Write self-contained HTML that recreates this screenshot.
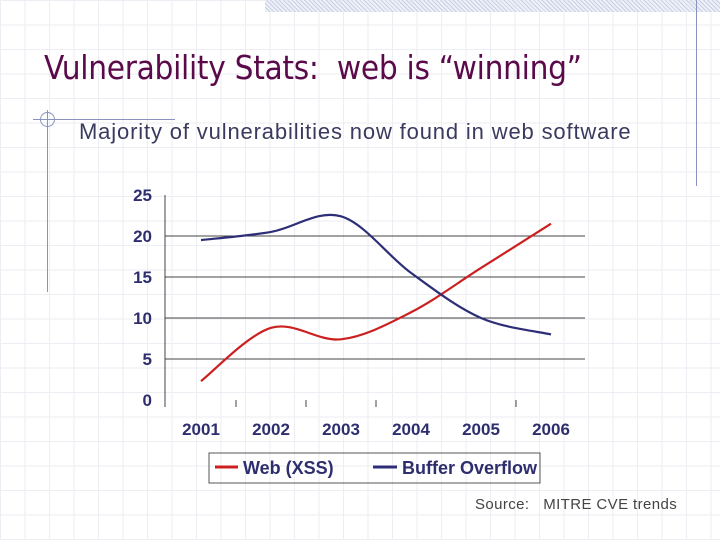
<!DOCTYPE html>
<html><head><meta charset="utf-8"><style>
html,body{margin:0;padding:0}
body{width:720px;height:540px;position:relative;overflow:hidden;font-family:"Liberation Sans",sans-serif;
background-color:#fff;
background-image:linear-gradient(to right,#eceef3 1px,transparent 1px),linear-gradient(to bottom,#eceef3 1px,transparent 1px);
background-size:24.5px 24.5px;}
.abs{position:absolute}
</style></head><body>
<div class="abs" style="left:265px;top:0;width:455px;height:12px;background:repeating-linear-gradient(45deg,#c8d0e4 0 1px,#eef0f8 1px 3px)"></div>
<div class="abs" style="left:696px;top:0;width:1px;height:186px;background:#8a93c0"></div>
<div class="abs" style="left:47px;top:110px;width:1px;height:182px;background:#8a93c0"></div>
<div class="abs" style="left:33px;top:119px;width:142px;height:1px;background:#8a93c0"></div>
<div class="abs" style="left:40px;top:112px;width:13px;height:13px;border:1px solid #8a93c0;border-radius:50%"></div>
<div class="abs" style="left:44px;top:48px;font-size:33px;color:#5a0a4a;font-family:'DejaVu Sans Condensed','Liberation Sans',sans-serif;letter-spacing:-0.3px;white-space:nowrap">Vulnerability Stats:&nbsp; web is “winning”</div>
<div class="abs" style="left:79px;top:119px;font-size:22px;letter-spacing:0.85px;color:#3a3a5e;white-space:nowrap">Majority of vulnerabilities now found in web software</div>
<div class="abs" style="left:475px;top:496px;font-size:15px;letter-spacing:0.4px;color:#444;white-space:nowrap">Source:&nbsp;&nbsp; MITRE CVE trends</div>
<svg class="abs" style="left:0;top:0" width="720" height="540">
<g id="grid"></g><g id="axes"></g><g id="lines"></g>
<rect x="209" y="453" width="331" height="30" fill="none" stroke="#555" stroke-width="1"/>
<g><line x1="215" y1="467" x2="238" y2="467" stroke="#cc2020" stroke-width="3"/><text x="243" y="474" font-size="18" font-weight="bold" fill="#2e2e6e" font-family="Liberation Sans, sans-serif">Web (XSS)</text></g>
<g><line x1="373" y1="467" x2="397" y2="467" stroke="#2e2e78" stroke-width="3"/><text x="402" y="474" font-size="18" font-weight="bold" fill="#2e2e6e" font-family="Liberation Sans, sans-serif">Buffer Overflow</text></g>
</svg>
<script>
const categories=["2001","2002","2003","2004","2005","2006"];
const webValues=[2.3,8.8,7.4,10.7,16.1,21.5];
const bufferValues=[19.5,20.5,22.4,15.5,10,8];
const yTicks=[0,5,10,15,20,25];
const NS="http://www.w3.org/2000/svg";
const x0=165,x1=585,yBase=400,pxPerUnit=8.2;
const xs=i=>201+i*70;
const ys=v=>yBase-v*pxPerUnit;
function mk(tag,attrs,parent){const e=document.createElementNS(NS,tag);for(const k in attrs)e.setAttribute(k,attrs[k]);parent.appendChild(e);return e;}
const grid=document.getElementById('grid'),axes=document.getElementById('axes'),lines=document.getElementById('lines');
yTicks.forEach(t=>{
 if(t>0&&t<25){const l=mk('line',{x1:x0,x2:x1,y1:ys(t),y2:ys(t),stroke:'#444','stroke-width':1},grid);
 
 }
 const tx=mk('text',{x:152,y:ys(t)+6,'text-anchor':'end','font-size':17,'font-weight':'bold',fill:'#2e2e6e','font-family':'Liberation Sans, sans-serif'},axes);
 tx.textContent=t;
 
 
});
const ax=mk('line',{x1:x0,x2:x0,y1:195,y2:407,stroke:'#444','stroke-width':1},axes);


categories.forEach((c,i)=>{
 const tx=mk('text',{x:xs(i),y:435,'text-anchor':'middle','font-size':17,'font-weight':'bold',fill:'#2e2e6e','font-family':'Liberation Sans, sans-serif'},axes);
 tx.textContent=c;
 
 
 if(i<categories.length-1&&i!==3){const tk=mk('line',{x1:xs(i)+35,x2:xs(i)+35,y1:400,y2:407,stroke:'#444'},axes);
 
 }
});
function smooth(vals){const p=vals.map((v,i)=>[xs(i),ys(v)]);let d='M'+p[0][0]+','+p[0][1];
 for(let i=0;i<p.length-1;i++){const a=p[i-1]||p[i],b=p[i],c=p[i+1],e=p[i+2]||c;
 d+=' C'+(b[0]+(c[0]-a[0])/6)+','+(b[1]+(c[1]-a[1])/6)+' '+(c[0]-(e[0]-b[0])/6)+','+(c[1]-(e[1]-b[1])/6)+' '+c[0]+','+c[1];}
 return d;}
const pw=mk('path',{d:smooth(webValues),fill:'none',stroke:'#cc2020','stroke-width':2.2},lines);


const pb=mk('path',{d:smooth(bufferValues),fill:'none',stroke:'#2e2e78','stroke-width':2.2},lines);


</script>
</body></html>
